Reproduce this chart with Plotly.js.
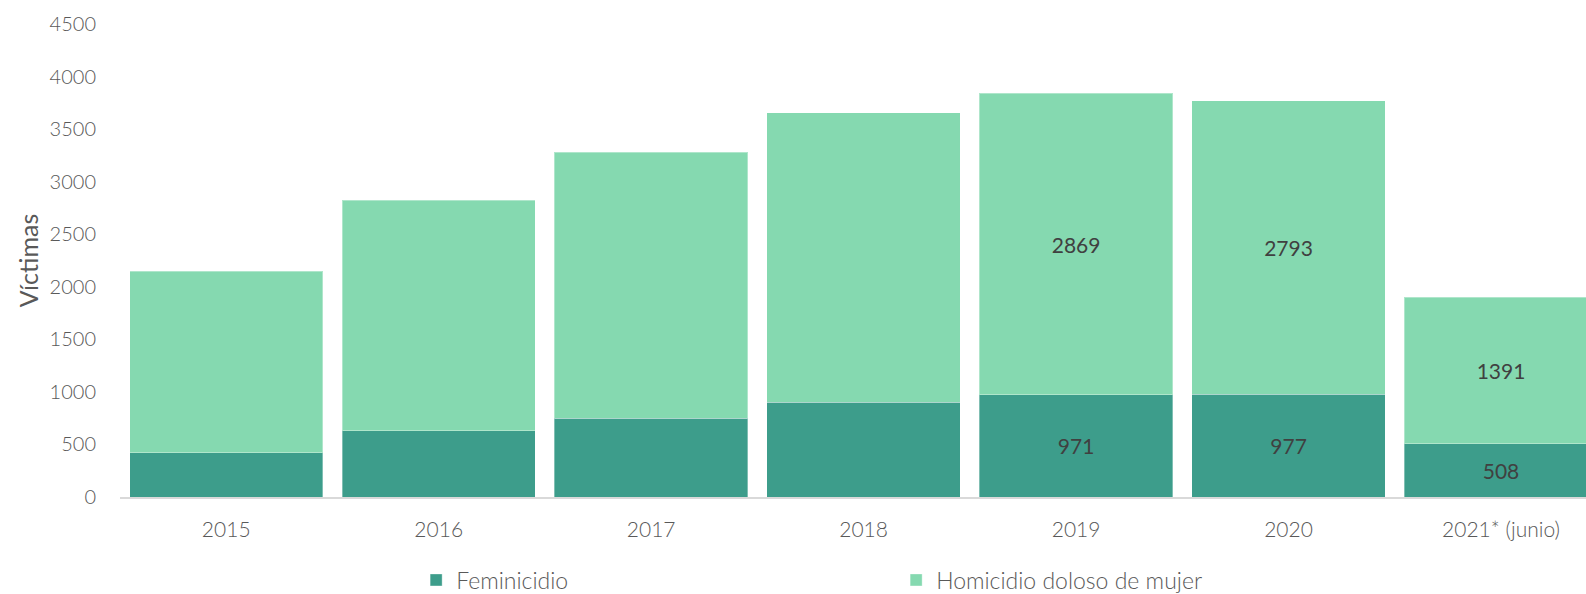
<!DOCTYPE html>
<html>
<head>
<meta charset="utf-8">
<script src="https://cdn.plot.ly/plotly-3.0.1.min.js"></script>
<style>html,body{margin:0;padding:0;background:#fff;}#chart{width:1586px;height:594px;}</style>
</head>
<body>
<div id="chart"></div>
<script>
const categories = ["2015", "2016", "2017", "2018", "2019", "2020", "2021* (junio)"];
const feminicidio = [423, 630, 749, 901, 971, 977, 508];
const homicidio = [1727, 2191, 2533, 2755, 2869, 2793, 1391];
const labeled = [false, false, false, false, true, true, true];
const yTicks = [0, 500, 1000, 1500, 2000, 2500, 3000, 3500, 4000, 4500];

const FAM = "Lato, 'Open Sans', sans-serif";
const labelFont = {family: FAM, size: 21, color: "#404040"};

const traces = [
  {
    type: "bar", name: "Feminicidio", x: categories, y: feminicidio,
    marker: {color: "#3D9D8B", line: {color: "rgba(255,255,255,0.35)", width: 1}},
    text: feminicidio.map((v, i) => labeled[i] ? String(v) : ""),
    textposition: "inside", insidetextanchor: "middle", textangle: 0,
    textfont: labelFont, hoverinfo: "x+y+name"
  },
  {
    type: "bar", name: "Homicidio doloso de mujer", x: categories, y: homicidio,
    marker: {color: "#85D9B0", line: {color: "rgba(255,255,255,0.35)", width: 1}},
    text: homicidio.map((v, i) => labeled[i] ? String(v) : ""),
    textposition: "inside", insidetextanchor: "middle", textangle: 0,
    textfont: labelFont, hoverinfo: "x+y+name"
  }
];

const layout = {
  width: 1586, height: 594,
  margin: {l: 120, r: 0, t: 24, b: 97, autoexpand: false},
  paper_bgcolor: "#fff", plot_bgcolor: "#fff",
  barmode: "stack", bargap: 0.09,
  uniformtext: {mode: false},
  xaxis: {
    type: "category", range: [-0.5, 6.4],
    showgrid: false, zeroline: false,
    showline: true, linecolor: "#D9D9D9", linewidth: 2,
    ticks: "", ticklabelstandoff: 13,
    tickfont: {family: FAM, size: 21, color: "#595959", weight: 300}
  },
  yaxis: {
    range: [0, 4500], tickvals: yTicks, ticktext: yTicks.map(String),
    showgrid: false, zeroline: false, showline: false,
    ticks: "", ticklabelstandoff: 23,
    tickfont: {family: FAM, size: 20, color: "#595959", weight: 300},
    title: {text: "Víctimas", font: {family: FAM, size: 25, color: "#595959"}, standoff: 3}
  },
  showlegend: true,
  legend: {
    orientation: "h", x: 0.202, y: -0.13, xanchor: "left", yanchor: "top",
    entrywidth: 435, traceorder: "normal",
    font: {family: FAM, size: 23, color: "#595959", weight: 300}
  }
};

Plotly.newPlot("chart", traces, layout, {displayModeBar: false, staticPlot: true});
</script>
</body>
</html>
